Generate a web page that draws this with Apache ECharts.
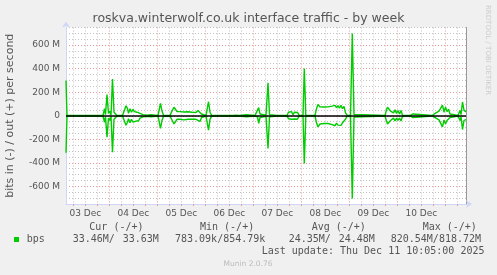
<!DOCTYPE html>
<html>
<head>
<meta charset="utf-8">
<script src="https://cdn.jsdelivr.net/npm/echarts@6/dist/echarts.min.js"></script>
<style>
html,body{margin:0;padding:0;background:#F0F0F0;}
#c{width:497px;height:275px;}
</style>
</head>
<body>
<div id="c"></div>
<script>
// ---- data (time in hours since 03 Dec 00:00; values in Mbit/s) ----
var hours = [2.35,2.85,6.85,7.2,7.6,11.35,11.7,12.1,20.85,21.6,22.1,22.85,23.6,24.35,24.85,25.6,26.35,27.1,27.85,
  30.6,31.0,31.35,32.35,33.1,33.6,34.35,35.1,35.85,36.6,37.35,37.85,38.6,39.35,40.1,40.85,41.85,42.85,43.85,44.85,45.85,46.85,
  48.35,49.6,50.35,51.1,54.35,55.6,56.35,57.1,57.85,58.6,59.35,60.35,61.35,62.35,63.35,64.35,65.35,66.35,67.35,68.35,69.35,70.1,70.85,
  72.35,73.6,74.35,75.1,79.35,79.85,80.35,85.85,86.35,87.1,88.1,88.85,89.6,92.6,93.1,96.85,97.35,98.1,98.7,99.35,99.85,
  102.35,103.35,104.1,107.85,108.2,108.6,112.85,113.6,114.35,115.1,115.85,116.6,117.35,118.1,118.85,120.85,121.5,122.25,
  126.85,127.6,128.35,129.35,130.35,131.35,132.35,133.35,134.35,135.35,136.1,136.85,137.6,138.35,139.1,139.85,140.6,141.35,142.1,142.85,
  144.6,145.5,146.35,147.35,161.85,162.6,163.1,163.85,164.6,165.35,166.1,166.85,167.6,168.35,169.1,169.85,170.6,
  174.35,175.1,175.85,176.6,185.35,186.35,187.35,188.1,188.85,189.6,190.6,191.35,192.1,192.85,193.6,194.35,195.1,
  198.35,199.35,199.85,200.6,201.35,202.35];
var outM = [300,3,2,12,2,2,12,2,2,60,10,180,20,40,5,312,30,40,2,
  2,15,2,85,60,20,60,30,55,35,50,30,45,20,30,10,15,5,18,8,15,5,
  2,105,40,5,2,50,72,55,35,20,35,25,32,28,34,25,30,40,28,45,51,15,2,
  2,119,30,5,2,10,2,2,15,5,15,2,8,8,2,2,20,10,70,15,5,
  5,280,10,2,10,2,2,30,15,35,10,30,15,28,5,2,402,3,
  2,60,95,75,72,74,72,75,74,82,70,88,68,85,65,88,60,80,25,5,
  3,698,10,2,2,50,72,60,40,45,25,50,20,45,15,45,5,
  2,15,15,2,2,10,25,15,40,30,90,30,75,35,55,15,2,
  2,45,10,117,45,33.6];
var inM = [315,3,2,10,2,2,10,2,2,55,10,182,20,40,5,310,30,40,2,
  2,15,2,80,55,25,60,30,55,40,45,30,45,20,25,10,15,5,18,8,15,5,
  2,107,40,5,2,45,70,60,30,20,30,30,35,28,30,28,30,35,30,40,48,15,2,
  2,122,30,5,2,10,2,2,15,5,12,2,8,8,2,2,18,10,65,15,5,
  5,277,10,2,10,2,2,25,20,30,15,28,18,30,5,2,405,3,
  2,60,95,70,68,66,68,66,68,75,68,85,62,80,65,82,60,75,30,5,
  3,704,10,2,2,45,70,55,40,45,20,45,20,40,20,45,5,
  2,15,15,2,2,10,20,18,35,30,95,35,70,40,50,15,2,
  2,40,10,117,40,33.5];
var dayLabels = ['03 Dec','04 Dec','05 Dec','06 Dec','07 Dec','08 Dec','09 Dec','10 Dec'];
var dayLabelHours = [12,36,60,84,108,132,156,180];
var gridHours = [6,12,18,24,30,36,42,48,54,60,66,72,78,84,90,96,102,108,114,120,126,132,138,144,150,156,162,168,174,180,186,192,198];
var yTickValues = [-600,-400,-200,0,200,400,600];
var yTickLabels = ['-600 M','-400 M','-200 M','0','200 M','400 M','600 M'];
var legendHeaders = ['Cur (-/+)','Min (-/+)','Avg (-/+)','Max (-/+)'];
var legendIn = ['33.46M/','783.09k/','24.35M/','820.54M/'];
var legendOut = ['33.63M','854.79k','24.48M','818.72M'];
var seriesName = 'bps';
var titleText = 'roskva.winterwolf.co.uk interface traffic - by week';
var yAxisTitle = 'bits in (-) / out (+) per second';
var lastUpdate = 'Last update: Thu Dec 11 10:05:00 2025';
var footer = 'Munin 2.0.76';
var sideText = 'RRDTOOL / TOBI OETIKER';

// ---- chart ----
var outData = hours.map(function(h,i){return [h,outM[i]];});
var inData = hours.map(function(h,i){return [h,-inM[i]];});
var GREEN = '#00CC00';
var minorC = 'rgba(170,170,170,0.7)';
var majorC = 'rgba(225,110,110,0.7)';
var SANS = 'DejaVu Sans';
var MONO = 'DejaVu Sans Mono';
var txtC = '#555555';

var chart = echarts.init(document.getElementById('c'), null, {renderer:'canvas'});
var graphics = [];
graphics.push({type:'rect', shape:{x:14,y:237,width:5,height:5}, style:{fill:GREEN}});
graphics.push({type:'text', x:26.7, y:239.5, style:{text:seriesName, font:'10px "'+MONO+'"', fill:txtC, textVerticalAlign:'middle'}});
var hdrX = [89.3,200,311.7,422.7];
var inX = [72.7,175,288.7,390.7];
var outX = [122.7,223.2,338.7,438.9];
for (var i=0;i<4;i++){
  graphics.push({type:'text', x:hdrX[i], y:227.7, style:{text:legendHeaders[i], font:'10px "'+MONO+'"', fill:txtC, textVerticalAlign:'middle'}});
  graphics.push({type:'text', x:inX[i], y:239.5, style:{text:legendIn[i], font:'10px "'+MONO+'"', fill:txtC, textVerticalAlign:'middle'}});
  graphics.push({type:'text', x:outX[i], y:239.5, style:{text:legendOut[i], font:'10px "'+MONO+'"', fill:txtC, textVerticalAlign:'middle'}});
}
graphics.push({type:'text', x:261.7, y:251.3, style:{text:lastUpdate, font:'10px "'+MONO+'"', fill:txtC, textVerticalAlign:'middle'}});
graphics.push({type:'text', x:248, y:264, style:{text:footer, font:'7.5px "'+SANS+'"', fill:'#BBBBBB', textAlign:'center', textVerticalAlign:'middle'}});
graphics.push({type:'text', x:487.5, y:5, rotation:-Math.PI/2, style:{text:sideText, font:'7px "'+SANS+'"', fill:'#CCCCCC', textAlign:'left', textVerticalAlign:'middle'}});

chart.setOption({
  animation:false,
  backgroundColor:'#F0F0F0',
  title:{text:titleText, left:'center', top:12, padding:0, textStyle:{fontFamily:SANS, fontSize:12.5, fontWeight:'normal', color:txtC}},
  grid:{left:66, right:31, top:27.5, bottom:71, show:true, backgroundColor:'#FFFFFF', borderWidth:0, containLabel:false, outerBoundsMode:'none'},
  xAxis:{type:'value', min:2.35, max:202.35,
    axisLine:{onZero:false, lineStyle:{color:'#CFD6F8', width:1}, symbol:['none','arrow'], symbolSize:[6,6], symbolOffset:[0,6]},
    axisTick:{show:true, length:2, inside:false, customValues:gridHours, lineStyle:{color:'#E0A0A0'}},
    axisLabel:{customValues:dayLabelHours, formatter:function(v){var k=dayLabelHours.indexOf(Math.round(v)); return k>=0?dayLabels[k]:'';}, fontFamily:SANS, fontSize:9, color:txtC, margin:5},
    splitLine:{show:true, lineStyle:{color:[minorC,minorC,minorC,majorC], type:[1,2], width:1}}
  },
  yAxis:[{type:'value', min:-750, max:750, interval:50,
    name:yAxisTitle, nameLocation:'middle', nameRotate:90, nameGap:50, nameTextStyle:{fontFamily:SANS, fontSize:11, color:txtC},
    axisLine:{show:true, lineStyle:{color:'#CFD6F8'}, symbol:['none','arrow'], symbolSize:[6,6], symbolOffset:[0,6]},
    axisTick:{show:false},
    axisLabel:{customValues:yTickValues, formatter:function(v){var k=yTickValues.indexOf(Math.round(v)); return k>=0?yTickLabels[k]:'';}, fontFamily:SANS, fontSize:9, color:txtC, margin:6},
    splitLine:{show:true, lineStyle:{color:[minorC,minorC,minorC,majorC], type:[1,2], width:1}}
  },{type:'value', min:-750, max:750, position:'right',
    axisLine:{show:true, lineStyle:{color:'#999999'}}, axisTick:{show:false}, axisLabel:{show:false}, splitLine:{show:false}
  }],
  series:[
    {name:seriesName+' out', type:'line', data:outData, showSymbol:false, lineStyle:{color:GREEN, width:1.4}, itemStyle:{color:GREEN}, z:3},
    {name:seriesName+' in', type:'line', data:inData, showSymbol:false, lineStyle:{color:GREEN, width:1.4}, itemStyle:{color:GREEN}, z:4,
      markLine:{silent:true, symbol:'none', label:{show:false}, lineStyle:{color:'#000000', type:'solid', width:1.5}, data:[{yAxis:0}]}}
  ],
  graphic:graphics
});
</script>
</body>
</html>
